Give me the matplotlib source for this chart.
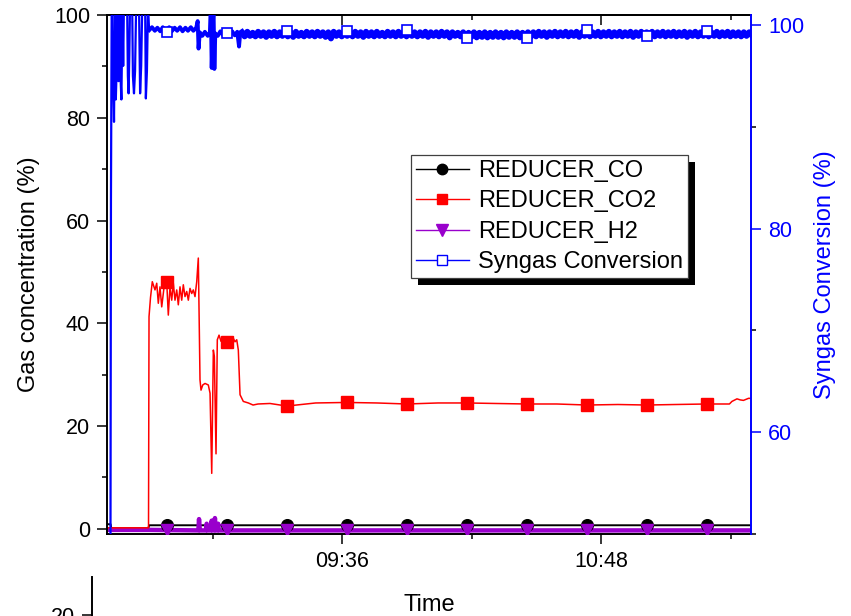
import numpy as np
import pandas as pd
import matplotlib
matplotlib.use("Agg")
import matplotlib.pyplot as plt
import matplotlib.dates as mdates
from matplotlib.lines import Line2D
from matplotlib.patches import Rectangle

plt.rcParams['font.family'] = ['Liberation Sans', 'DejaVu Sans']

# logger start; all times below are minutes after this
start = pd.Timestamp('2018-06-12 08:30:40')

# REDUCER_CO (%)
co_t = [0.0, 1.0, 1.2, 11.5, 11.7, 179.0]
co_v = [0.9, 0.9, 0.1, 0.1, 0.7, 0.7]

# REDUCER_CO2 (%)
co2_t = [0.0, 11.54, 11.68, 12.09, 12.59, 13.34, 13.82, 14.26, 14.73, 15.21,
         15.65, 16.12, 16.60, 17.04, 17.51, 17.99, 18.43, 18.90, 19.38, 19.82,
         20.29, 20.77, 21.21, 21.68, 22.16, 22.60, 23.07, 23.55, 23.99, 24.46,
         24.94, 25.38, 25.66, 25.85, 26.13, 26.61, 27.25, 28.16, 28.64, 29.11,
         29.56, 29.84, 30.30, 30.66, 31.14, 31.69, 32.25, 32.80, 33.28, 33.92,
         34.47, 35.03, 35.58, 36.06, 36.50, 36.98, 37.89, 39.28, 40.59, 41.98,
         45.3, 50.0, 58.0, 66.6, 75.0, 83.3, 92.0, 100.0, 108.0, 116.7,
         125.0, 133.4, 142.0, 150.0, 158.0, 166.7, 173.0, 173.7, 175.1, 176.0,
         176.9, 178.3, 179.0]
co2_v = [0.2, 0.2, 41.3, 45.0, 48.1, 46.5, 47.8, 43.9, 47.1, 43.2,
         45.8, 48.6, 48.0, 41.6, 47.1, 44.5, 47.8, 44.5, 46.5, 43.6,
         47.1, 44.5, 47.5, 45.2, 46.2, 44.5, 46.8, 45.8, 46.5, 45.2,
         48.1, 52.7, 38.7, 29.0, 27.0, 28.0, 28.3, 28.0, 26.4, 10.8,
         34.8, 33.5, 14.6, 36.8, 37.7, 36.5, 37.3, 36.4, 36.3, 37.0,
         36.2, 37.2, 36.4, 36.8, 34.8, 26.1, 24.8, 24.5, 24.1, 24.3,
         24.4, 23.9, 24.5, 24.6, 24.5, 24.3, 24.5, 24.5, 24.4, 24.3,
         24.3, 24.1, 24.2, 24.1, 24.2, 24.3, 24.3, 24.8, 25.3, 25.1,
         25.0, 25.4, 25.4]

# REDUCER_H2 (%)
h2_t = [0.0, 11.5, 25.4, 25.58, 25.8, 27.5, 27.7, 27.9, 28.9, 29.1,
        29.3, 29.8, 30.0, 30.2, 30.7, 30.9, 31.1, 179.0]
h2_v = [-0.2, -0.2, -0.3, 1.9, -0.3, -0.3, 1.0, -0.3, -0.3, 1.6,
        -0.3, -0.3, 2.1, -0.3, -0.3, 1.0, -0.3, -0.3]

# Syngas conversion (%), right axis
syn_t = [0.0, 0.95, 1.1, 1.3, 1.45, 1.7, 1.95, 2.2, 2.45, 2.7,
         2.95, 3.2, 3.5, 3.75, 4.0, 4.3, 4.5, 4.7, 5.6, 5.8,
         6.0, 6.2, 6.4, 7.0, 7.2, 7.5, 7.8, 8.1, 8.9, 9.2,
         9.5, 9.8, 10.6, 10.8, 11.1, 11.4, 11.7, 12.5, 13.3, 14.0,
         14.8, 15.5, 16.2, 17.3, 18.0, 18.8, 19.5, 20.3, 21.0, 21.8,
         22.5, 23.3, 24.0, 24.8, 25.2, 25.45, 25.8, 26.5, 27.2, 28.0,
         28.6, 28.85, 29.1, 29.35, 29.6, 29.85, 30.1, 30.8, 31.5, 32.3,
         33.0, 34.0, 34.8, 35.5, 36.2, 36.7, 37.0,
         37.5, 38.25, 39.0, 39.75, 40.5, 41.25, 42.0, 42.75, 43.5, 44.25, 45.0, 45.75,
         46.5, 47.25, 48.0, 48.75, 49.5, 50.25, 51.0, 51.75, 52.5, 53.25, 54.0, 54.75,
         55.5, 56.25, 57.0, 57.75, 58.5, 59.25, 60.0, 60.75, 61.5, 62.25, 63.0, 63.75,
         64.5, 65.25, 66.0, 66.75, 67.5, 68.25, 69.0, 69.75, 70.5, 71.25, 72.0, 72.75,
         73.5, 74.25, 75.0, 75.75, 76.5, 77.25, 78.0, 78.75, 79.5, 80.25, 81.0, 81.75,
         82.5, 83.25, 84.0, 84.75, 85.5, 86.25, 87.0, 87.75, 88.5, 89.25, 90.0, 90.75,
         91.5, 92.25, 93.0, 93.75, 94.5, 95.25, 96.0, 96.75, 97.5, 98.25, 99.0, 99.75,
         100.5, 101.25, 102.0, 102.75, 103.5, 104.25, 105.0, 105.75, 106.5, 107.25, 108.0, 108.75,
         109.5, 110.25, 111.0, 111.75, 112.5, 113.25, 114.0, 114.75, 115.5, 116.25, 117.0, 117.75,
         118.5, 119.25, 120.0, 120.75, 121.5, 122.25, 123.0, 123.75, 124.5, 125.25, 126.0, 126.75,
         127.5, 128.25, 129.0, 129.75, 130.5, 131.25, 132.0, 132.75, 133.5, 134.25, 135.0, 135.75,
         136.5, 137.25, 138.0, 138.75, 139.5, 140.25, 141.0, 141.75, 142.5, 143.25, 144.0, 144.75,
         145.5, 146.25, 147.0, 147.75, 148.5, 149.25, 150.0, 150.75, 151.5, 152.25, 153.0, 153.75,
         154.5, 155.25, 156.0, 156.75, 157.5, 158.25, 159.0, 159.75, 160.5, 161.25, 162.0, 162.75,
         163.5, 164.25, 165.0, 165.75, 166.5, 167.25, 168.0, 168.75, 169.5, 170.25, 171.0, 171.75,
         172.5, 173.25, 174.0, 174.75, 175.5, 176.25, 177.0, 177.75, 178.5, 179.0]
syn_v = [45.0, 45.0, 83.0, 101.5, 101.5, 95.0, 90.5, 101.5, 92.7, 96.0,
         101.5, 94.5, 101.5, 95.0, 92.7, 101.5, 96.0, 102.0, 102.0, 95.0,
         93.3, 97.0, 102.0, 102.0, 95.0, 93.3, 95.5, 102.0, 102.0, 93.3,
         96.0, 102.0, 102.0, 92.8, 95.5, 102.0, 99.5, 99.8, 99.45, 99.75,
         99.4, 99.8, 99.45, 99.8, 99.4, 99.75, 99.45, 99.8, 99.4, 99.75,
         99.45, 99.8, 99.45, 99.75, 100.4, 97.7, 99.3, 98.95, 99.35, 98.95,
         99.3, 102.0, 95.8, 99.0, 102.0, 95.7, 99.2, 98.95, 99.4, 99.0,
         99.4, 98.95, 99.4, 99.0, 99.35, 97.9, 99.1,
         99.3, 98.9, 99.35, 98.95, 99.25, 98.9, 99.35, 98.95, 99.3, 98.85, 99.3, 98.95,
         99.35, 98.9, 99.3, 98.95, 99.35, 98.9, 99.3, 98.85, 99.35, 98.95, 99.25, 98.9,
         99.35, 98.95, 99.3, 98.9, 99.35, 98.95, 99.3, 98.85, 99.3, 98.7, 99.35, 98.95,
         99.3, 98.9, 99.35, 98.95, 99.3, 98.9, 99.35, 98.95, 99.3, 98.85, 99.35, 98.95,
         99.3, 98.9, 99.35, 98.95, 99.25, 98.9, 99.35, 98.95, 99.3, 98.9, 99.35, 98.95,
         99.3, 98.9, 99.35, 98.95, 99.3, 98.9, 99.3, 98.95, 99.35, 98.85, 99.3, 98.95,
         99.3, 98.9, 99.35, 98.95, 99.3, 98.8, 99.3, 98.95, 99.25, 98.9, 99.3, 98.8,
         99.25, 98.85, 99.3, 98.8, 99.25, 98.85, 99.3, 98.8, 99.25, 98.85, 99.3, 98.85,
         99.25, 98.8, 99.3, 98.85, 99.25, 98.85, 99.3, 98.8, 99.25, 98.85, 99.3, 98.85,
         99.3, 98.9, 99.35, 98.95, 99.3, 98.85, 99.3, 98.95, 99.35, 98.9, 99.3, 98.95,
         99.35, 98.9, 99.3, 98.95, 99.35, 98.85, 99.3, 98.95, 99.35, 98.9, 99.3, 98.95,
         99.35, 98.9, 99.3, 98.95, 99.35, 98.9, 99.3, 98.95, 99.35, 98.9, 99.3, 98.95,
         99.35, 98.85, 99.3, 98.95, 99.35, 98.9, 99.3, 98.95, 99.35, 98.9, 99.3, 98.95,
         99.35, 98.9, 99.3, 98.95, 99.35, 98.9, 99.3, 98.95, 99.35, 98.85, 99.3, 98.95,
         99.35, 98.9, 99.3, 98.95, 99.35, 98.9, 99.3, 98.95, 99.35, 98.9, 99.3, 98.95,
         99.35, 98.9, 99.3, 98.95, 99.3, 98.9, 99.3, 98.95, 99.3, 99.1]

# symbol positions (every 16 min 40 s)
mark_t = [16.67, 33.33, 50.0, 66.67, 83.33, 100.0, 116.67, 133.33, 150.0, 166.67]
co_mark = [0.7, 0.7, 0.7, 0.7, 0.7, 0.7, 0.7, 0.7, 0.7, 0.7]
co2_mark = [48.0, 36.3, 23.9, 24.6, 24.3, 24.5, 24.3, 24.1, 24.1, 24.3]
h2_mark = [-0.3, -0.3, -0.3, -0.3, -0.3, -0.3, -0.3, -0.3, -0.3, -0.3]
syn_mark = [99.35, 99.2, 99.4, 99.4, 99.5, 98.7, 98.75, 99.5, 98.9, 99.45]

major_times = ['09:36', '10:48']
minor_times = ['09:00', '10:12', '11:24']


def clock(minutes):
    return start + pd.to_timedelta(np.asarray(minutes, dtype=float), unit='min')


def at(hhmm):
    return pd.Timestamp(start.strftime('%Y-%m-%d') + ' ' + hhmm)


purple = '#9900cc'
fs_tick = 15.5
fs_label = 17

fig = plt.figure(figsize=(8.51, 6.16), dpi=100)
ax = fig.add_axes([107 / 851, 1 - 534 / 616, 644 / 851, 519 / 616])
ax2 = ax.twinx()

ax.plot(clock(co_t), co_v, color='black', lw=1.4, zorder=2)
ax.plot(clock(h2_t), h2_v, color=purple, lw=3.2, zorder=2.1)
ax.plot(clock(co2_t), co2_v, color='red', lw=1.1, zorder=2.2)
ax.plot(clock(mark_t), co_mark, ls='none', marker='o', ms=8.4, color='black', zorder=3)
ax.plot(clock(mark_t), h2_mark, ls='none', marker='v', ms=8.5, color=purple, zorder=3.1)
ax.plot(clock(mark_t), co2_mark, ls='none', marker='s', ms=8.0, color='red', zorder=3.2)

# start-up transient thin, upset period medium, noisy steady run heavier
syn_t = np.asarray(syn_t)
syn_v = np.asarray(syn_v)
early = syn_t <= 11.7
upset = (syn_t >= 11.7) & (syn_t <= 37.5)
steady = syn_t >= 37.5
ax2.plot(clock(syn_t[early]), syn_v[early], color='blue', lw=1.6)
ax2.plot(clock(syn_t[upset]), syn_v[upset], color='blue', lw=2.8)
ax2.plot(clock(syn_t[steady]), syn_v[steady], color='blue', lw=4.3)
ax2.plot(clock(mark_t), syn_mark, ls='none', marker='s', ms=6.8,
         mfc='white', mec='blue', mew=1.2)

ax.set_xlim(clock([0, 179]))
ax.set_ylim(-1, 100)
ax2.set_ylim(50, 101)

ax.set_xticks([at(t) for t in major_times])
ax.set_xticks([at(t) for t in minor_times], minor=True)
ax.xaxis.set_major_formatter(mdates.DateFormatter('%H:%M'))
ax.set_yticks([0, 20, 40, 60, 80, 100])
ax.set_yticks([10, 30, 50, 70, 90], minor=True)
ax2.set_yticks([60, 80, 100])
ax2.set_yticks([50, 70, 90], minor=True)

for a in (ax, ax2):
    a.tick_params(which='major', length=7.2, width=1.1, labelsize=fs_tick, pad=5)
    a.tick_params(which='minor', length=3.6, width=1.1)
ax.tick_params(axis='y', right=False)
ax2.tick_params(axis='y', colors='blue')

# inward ticks along the top edge
top = ax.secondary_xaxis('top')
top.set_xticks(mdates.date2num([at(t) for t in major_times]))
top.set_xticks(mdates.date2num([at(t) for t in minor_times]), minor=True)
top.tick_params(which='major', direction='in', length=7.2, width=1.1, labeltop=False)
top.tick_params(which='minor', direction='in', length=3.6, width=1.1)
top.spines['top'].set_linewidth(1.4)

for side in ('left', 'bottom', 'top'):
    ax.spines[side].set_linewidth(1.4)
ax.spines['right'].set_visible(False)
for side in ('left', 'bottom', 'top'):
    ax2.spines[side].set_visible(False)
ax2.spines['right'].set_color('blue')
ax2.spines['right'].set_linewidth(1.4)

ax.set_xlabel('Time', fontsize=fs_label, labelpad=16)
ax.set_ylabel('Gas concentration (%)', fontsize=fs_label, labelpad=10)
ax2.set_ylabel('Syngas Conversion (%)', fontsize=fs_label, color='blue', labelpad=7)

handles = [
    Line2D([], [], color='black', lw=1, marker='o', ms=7.5, label='REDUCER_CO'),
    Line2D([], [], color='red', lw=1, marker='s', ms=7, label='REDUCER_CO2'),
    Line2D([], [], color=purple, lw=1, marker='v', ms=8.5, label='REDUCER_H2'),
    Line2D([], [], color='blue', lw=1, marker='s', ms=6.5, mfc='white', mec='blue',
           mew=1, label='Syngas Conversion'),
]
leg = ax2.legend(handles=handles, loc='upper left', bbox_to_anchor=(0.472, 0.730),
                 borderaxespad=0, fontsize=17, fancybox=False, framealpha=1,
                 edgecolor='#404040', handlelength=2.25, handletextpad=0.4,
                 borderpad=0.2, labelspacing=0.36)
leg.get_frame().set_linewidth(0.9)

# next panel below, only its top edge shows
ax_low = fig.add_axes([92 / 851, -0.3, 644 / 851, 0.3638])
ax_low.patch.set_visible(False)
ax_low.set_ylim(0, 24.06)
ax_low.set_yticks([0, 10, 20])
ax_low.set_xticks([])
for side in ('top', 'right', 'bottom'):
    ax_low.spines[side].set_visible(False)
ax_low.spines['left'].set_linewidth(1.4)
ax_low.tick_params(axis='y', length=7.2, width=1.1, labelsize=fs_tick, pad=5)

# solid black drop shadow behind the legend box
fig.canvas.draw()
bb = leg.get_window_extent()
inv = ax2.transAxes.inverted()
x0, y0 = inv.transform((bb.x0 + 7, bb.y0 - 7))
x1, y1 = inv.transform((bb.x1 + 7, bb.y1 - 7))
ax2.add_patch(Rectangle((x0, y0), x1 - x0, y1 - y0, transform=ax2.transAxes,
                        facecolor='black', edgecolor='none', zorder=4.9, clip_on=False))

fig.savefig('out.png', dpi=100)
